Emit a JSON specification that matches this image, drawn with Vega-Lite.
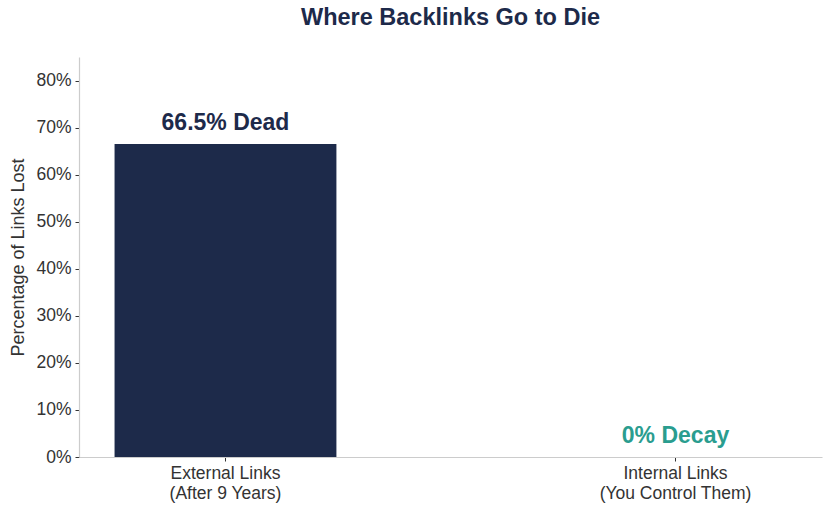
{
  "$schema": "https://vega.github.io/schema/vega-lite/v6.json",
  "width": 743,
  "height": 400,
  "autosize": "none",
  "padding": {"left": 79, "top": 57, "right": 10, "bottom": 56},
  "background": "white",
  "config": {
    "font": "Liberation Sans",
    "view": {"stroke": null}
  },
  "title": {
    "text": "Where Backlinks Go to Die",
    "fontSize": 23.5,
    "fontWeight": "bold",
    "color": "#1d2a4a",
    "anchor": "middle",
    "offset": 28
  },
  "data": {
    "values": [
      {"category": "External Links\n(After 9 Years)", "lost": 0.665, "label": "66.5% Dead", "kind": "external"},
      {"category": "Internal Links\n(You Control Them)", "lost": 0.0, "label": "0% Decay", "kind": "internal"}
    ]
  },
  "encoding": {
    "x": {
      "field": "category",
      "type": "nominal",
      "sort": null,
      "title": null,
      "scale": {"paddingInner": 0.507, "paddingOuter": 0.079},
      "axis": {
        "labelAngle": 0,
        "labelExpr": "split(datum.label, '\\n')",
        "labelFontSize": 17.5,
        "labelColor": "#333333",
        "labelLineHeight": 20,
        "labelPadding": 3,
        "domainColor": "#cccccc",
        "domainWidth": 1.2,
        "tickColor": "#333333",
        "tickSize": 4
      }
    },
    "y": {
      "field": "lost",
      "type": "quantitative",
      "title": "Percentage of Links Lost",
      "scale": {"domain": [0, 0.85], "nice": false},
      "axis": {
        "format": ".0%",
        "values": [0, 0.1, 0.2, 0.3, 0.4, 0.5, 0.6, 0.7, 0.8],
        "grid": false,
        "labelFontSize": 17.5,
        "labelColor": "#333333",
        "labelPadding": 4,
        "titleFontSize": 18,
        "titleFontWeight": "normal",
        "titleColor": "#333333",
        "titlePadding": 8,
        "domainColor": "#cccccc",
        "domainWidth": 1.2,
        "tickColor": "#333333",
        "tickSize": 4
      }
    }
  },
  "layer": [
    {
      "mark": {"type": "bar", "color": "#1d2a4a"}
    },
    {
      "mark": {"type": "text", "fontSize": 23, "fontWeight": "bold", "baseline": "bottom", "dy": -9},
      "encoding": {
        "text": {"field": "label"},
        "color": {
          "field": "kind",
          "type": "nominal",
          "scale": {"domain": ["external", "internal"], "range": ["#1d2a4a", "#2a9d8f"]},
          "legend": null
        }
      }
    }
  ]
}
